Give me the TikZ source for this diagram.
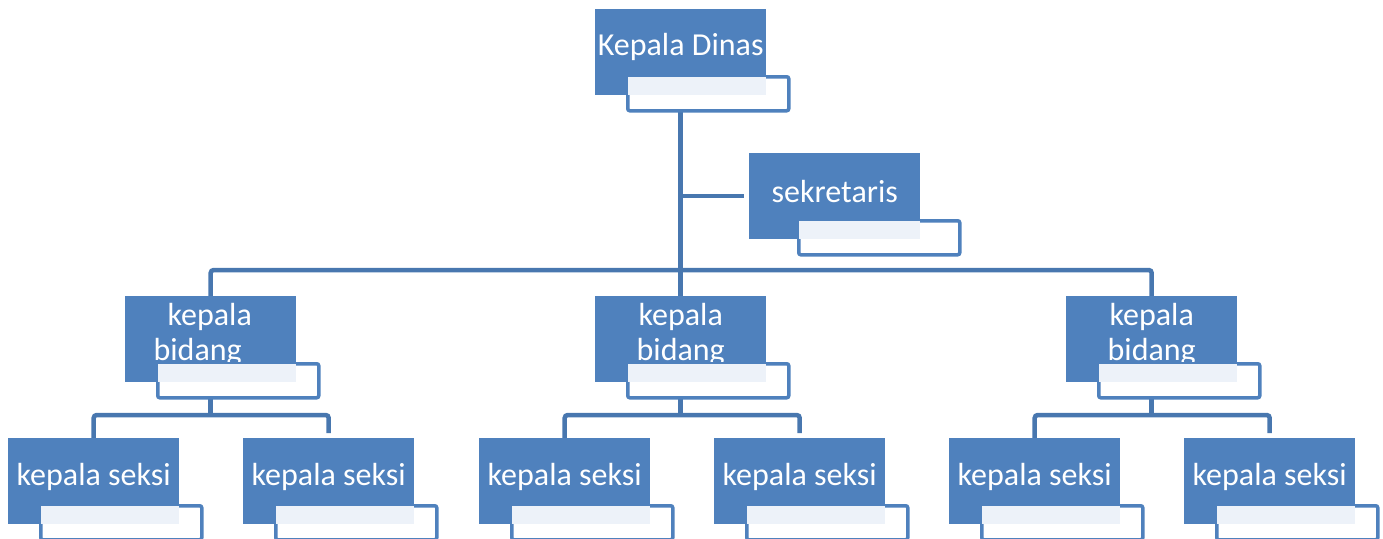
\documentclass[tikz,border=0pt]{standalone}
\usepackage{fontspec}
\setmainfont{Carlito}
\usetikzlibrary{backgrounds}
\definecolor{boxblue}{HTML}{4F81BD}
\definecolor{lineblue}{HTML}{4877AF}
\definecolor{paleblue}{HTML}{EDF2F9}
\tikzset{
  bluebox/.style={fill=boxblue, draw=none, minimum width=171, minimum height=86, inner sep=0pt},
  lblbox/.style={fill=white, draw=boxblue, line width=3.5pt, rounded corners=2pt, minimum width=161, minimum height=34, inner sep=0pt},
  boxtext/.style={text=white, font=\fontsize{32}{35}\selectfont, align=center, inner sep=0pt},
  conn/.style={draw=lineblue, line width=4.5pt, rounded corners=3pt},
}
\newcommand\orgunit[6]{% name, x, y, text, text shift, label x offset
  \node[bluebox, anchor=north west] (#1) at (#2,#3) {};
  \node[boxtext] (#1-t) at ([yshift=#5]#1.center) {#4};
  \node[lblbox, anchor=north west] (#1-l) at ([shift={(#6,66)}]#1.north west) {};
  \fill[paleblue] ([shift={(2,2)}]#1-l.north west) rectangle (#1.south east);
}
\begin{document}
\begin{tikzpicture}[x=1pt, y=-1pt]
\useasboundingbox (0,0) rectangle (1383,538);
\coordinate (bar) at (681,270);
\coordinate (sbar) at (0,415);
\orgunit{kd}{595}{9}{Kepala Dinas}{5pt}{31}
\orgunit{sek}{749}{153}{sekretaris}{5pt}{48}
\orgunit{kb1}{125}{296}{\hspace*{-2pt}kepala\\\hspace*{-26pt}bidang}{5pt}{31}
\orgunit{kb2}{595}{296}{kepala\\bidang}{5pt}{31}
\orgunit{kb3}{1066}{296}{kepala\\bidang}{5pt}{31}
\orgunit{ks1}{8}{438}{kepala seksi}{4pt}{31}
\orgunit{ks2}{243}{438}{kepala seksi}{4pt}{31}
\orgunit{ks3}{479}{438}{kepala seksi}{4pt}{31}
\orgunit{ks4}{714}{438}{kepala seksi}{4pt}{31}
\orgunit{ks5}{949}{438}{kepala seksi}{4pt}{31}
\orgunit{ks6}{1184}{438}{kepala seksi}{4pt}{31}
\begin{scope}[on background layer]
  \draw[conn] (kd.center) -- (kb2.north);
  \draw[conn] (kb1.north) -- (kb1 |- bar) -- (kb3 |- bar) -- (kb3.north);
  \draw[conn, shorten >=5pt] (kd |- sek.west) -- (sek.west);
  \draw[conn] (kb1.center) -- (kb1 |- sbar);
  \draw[conn, shorten >=5pt] (ks1.north) -- (ks1 |- sbar) -- (ks2 |- sbar) -- (ks2.north);
  \draw[conn] (kb2.center) -- (kb2 |- sbar);
  \draw[conn, shorten >=5pt] (ks3.north) -- (ks3 |- sbar) -- (ks4 |- sbar) -- (ks4.north);
  \draw[conn] (kb3.center) -- (kb3 |- sbar);
  \draw[conn, shorten >=5pt] (ks5.north) -- (ks5 |- sbar) -- (ks6 |- sbar) -- (ks6.north);
\end{scope}
\end{tikzpicture}
\end{document}
